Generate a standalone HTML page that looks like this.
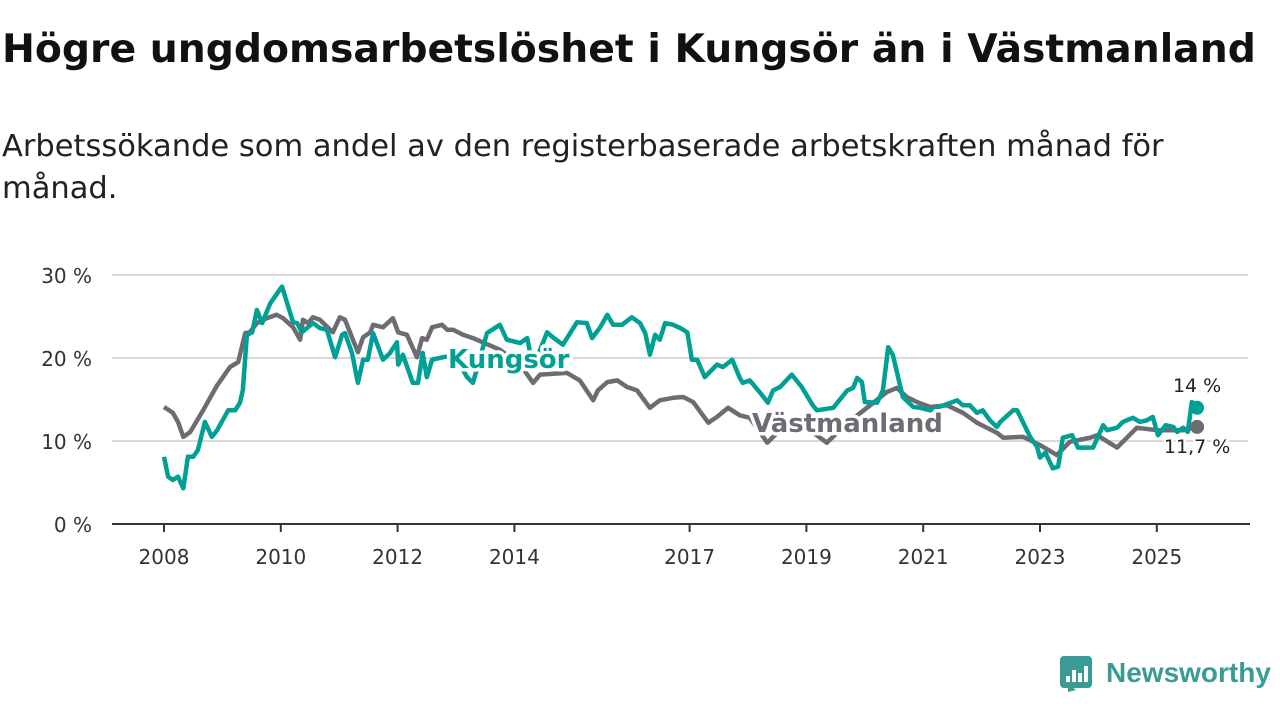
<!DOCTYPE html>
<html><head><meta charset="utf-8"><style>
body{margin:0;background:#fff;width:1280px;height:720px;overflow:hidden;font-family:"DejaVu Sans","Liberation Sans",sans-serif;}
#title{position:absolute;left:2px;top:26px;font-size:36px;font-weight:bold;color:#111;margin:0;white-space:nowrap;line-height:48px}
#sub{position:absolute;left:2px;top:126px;font-size:30.5px;color:#222;line-height:42px;width:1190px}
svg{position:absolute;left:0;top:0}
svg text{font-family:"DejaVu Sans","Liberation Sans",sans-serif}
svg text.logo{font-family:"Liberation Sans",sans-serif}
</style></head><body>
<h1 id="title">Högre ungdomsarbetslöshet i Kungsör än i Västmanland</h1>
<div id="sub">Arbetssökande som andel av den registerbaserade arbetskraften månad för månad.</div>
<svg id="chart" width="1280" height="720"></svg>
<script>
const yTicks=[0,10,20,30];
const yTickLabels=["0 %","10 %","20 %","30 %"];
const xTicks=[2008,2010,2012,2014,2017,2019,2021,2023,2025];
const vDates=[2008.0,2008.15,2008.24,2008.33,2008.45,2008.67,2008.91,2009.13,2009.27,2009.39,2009.47,2009.59,2009.76,2009.93,2010.04,2010.21,2010.33,2010.38,2010.47,2010.55,2010.67,2010.89,2011.01,2011.10,2011.32,2011.41,2011.53,2011.58,2011.75,2011.92,2012.01,2012.16,2012.33,2012.42,2012.50,2012.59,2012.76,2012.85,2012.95,2013.12,2013.29,2013.75,2014.10,2014.32,2014.44,2014.90,2015.12,2015.35,2015.43,2015.59,2015.76,2015.93,2016.10,2016.32,2016.49,2016.72,2016.89,2017.06,2017.32,2017.47,2017.66,2017.86,2018.03,2018.33,2018.43,2018.72,2019.06,2019.35,2019.66,2020.09,2020.38,2020.55,2020.72,2020.89,2021.12,2021.41,2021.68,2021.92,2022.26,2022.37,2022.71,2023.0,2023.29,2023.51,2023.86,2023.98,2024.32,2024.66,2025.0,2025.45,2025.69];
const vValues=[14.1,13.4,12.3,10.5,11.1,13.7,16.7,18.9,19.5,23.0,23.1,24.2,24.8,25.2,24.8,23.7,22.2,24.6,24.2,24.9,24.6,23.1,24.9,24.6,20.7,22.5,23.1,24.0,23.7,24.8,23.1,22.8,20.1,22.4,22.2,23.7,24.0,23.4,23.4,22.8,22.4,21.0,19.2,17.0,18.0,18.2,17.3,14.9,16.1,17.1,17.3,16.5,16.1,14.0,14.9,15.2,15.3,14.7,12.2,12.9,14.0,13.1,12.8,9.8,10.5,12.5,11.3,9.8,11.9,14.3,15.9,16.4,15.3,14.7,14.1,14.3,13.4,12.2,11.0,10.4,10.5,9.5,8.3,9.9,10.4,10.7,9.2,11.6,11.3,11.3,11.7];
const kDates=[2008.0,2008.07,2008.15,2008.24,2008.33,2008.41,2008.50,2008.58,2008.70,2008.82,2008.91,2009.10,2009.22,2009.30,2009.35,2009.42,2009.51,2009.59,2009.68,2009.82,2010.02,2010.21,2010.28,2010.36,2010.55,2010.67,2010.79,2010.93,2011.05,2011.10,2011.22,2011.32,2011.41,2011.49,2011.58,2011.75,2011.87,2011.99,2012.01,2012.09,2012.26,2012.35,2012.43,2012.50,2012.59,2012.78,2012.98,2013.19,2013.29,2013.53,2013.75,2013.87,2014.10,2014.22,2014.32,2014.56,2014.66,2014.83,2015.07,2015.24,2015.33,2015.47,2015.59,2015.69,2015.84,2016.01,2016.15,2016.24,2016.32,2016.41,2016.49,2016.58,2016.72,2016.84,2016.96,2017.04,2017.13,2017.26,2017.47,2017.57,2017.73,2017.86,2017.91,2018.03,2018.21,2018.34,2018.43,2018.55,2018.75,2018.92,2019.11,2019.18,2019.46,2019.70,2019.80,2019.87,2019.95,2020.00,2020.21,2020.31,2020.40,2020.48,2020.65,2020.83,2020.95,2021.12,2021.58,2021.68,2021.80,2021.92,2022.02,2022.14,2022.26,2022.32,2022.54,2022.61,2022.83,2022.95,2023.0,2023.09,2023.22,2023.31,2023.39,2023.55,2023.65,2023.91,2024.08,2024.15,2024.32,2024.42,2024.59,2024.71,2024.83,2024.93,2025.02,2025.15,2025.28,2025.35,2025.45,2025.53,2025.60,2025.69];
const kValues=[8.1,5.7,5.3,5.7,4.3,8.1,8.1,8.9,12.3,10.5,11.3,13.7,13.7,14.6,16.1,22.8,23.1,25.8,24.2,26.6,28.6,24.3,24.2,23.1,24.2,23.6,23.4,20.1,22.8,23.0,20.6,17.0,19.8,19.8,23.0,19.8,20.6,21.9,19.2,20.4,17.0,17.0,20.6,17.7,19.8,20.1,20.3,17.7,17.0,23.0,24.0,22.2,21.8,22.4,18.9,23.1,22.5,21.6,24.3,24.2,22.4,23.7,25.2,24.0,24.0,24.9,24.2,23.0,20.4,22.8,22.2,24.2,24.0,23.6,23.1,19.8,19.8,17.7,19.2,18.9,19.8,17.6,17.0,17.3,15.8,14.6,16.1,16.5,18.0,16.5,14.3,13.7,14.0,16.1,16.4,17.6,17.1,14.7,14.6,16.1,21.3,20.4,15.3,14.1,14.0,13.7,14.9,14.3,14.3,13.4,13.7,12.5,11.7,12.3,13.7,13.7,10.5,9.3,8.0,8.6,6.7,6.9,10.4,10.7,9.2,9.2,11.9,11.3,11.6,12.3,12.8,12.3,12.5,12.9,10.7,11.9,11.7,11.1,11.6,11.1,14.7,14.0];
const NS='http://www.w3.org/2000/svg';
const svg=document.getElementById('chart');
const X=d=>164+(d-2008)*58.4;
const Y=v=>524-v*8.3;
const ti=document.getElementById('title');
const w=ti.getBoundingClientRect().width;
ti.style.fontSize=(36*1254/w).toFixed(2)+'px';
function mk(tag,attrs,parent){const e=document.createElementNS(NS,tag);for(const k in attrs)e.setAttribute(k,attrs[k]);(parent||svg).appendChild(e);return e;}
yTicks.forEach((t,i)=>{
  if(t>0){const g=mk('line',{x1:112,x2:1248,y1:Y(t),y2:Y(t),stroke:'#d9d9d9','stroke-width':2});
  
  }
  const l=mk('text',{x:92,y:Y(t)+8,'text-anchor':'end','font-size':20,fill:'#333'});
  l.textContent=yTickLabels[i];
  
  
});
const ax=mk('line',{x1:112,x2:1250,y1:524,y2:524,stroke:'#333','stroke-width':2});


xTicks.forEach(t=>{
  const tk=mk('line',{x1:X(t),x2:X(t),y1:524,y2:532,stroke:'#333','stroke-width':2});
  
  
  const l=mk('text',{x:X(t),y:564,'text-anchor':'middle','font-size':20,fill:'#333'});
  l.textContent=t;
  
  
});
function pts(d,v){return d.map((x,i)=>X(x).toFixed(1)+','+Y(v[i]).toFixed(1)).join(' ');}
const vl=mk('polyline',{points:pts(vDates,vValues),fill:'none',stroke:'#6e6c72','stroke-width':4.5,'stroke-linejoin':'round'});


const kl=mk('polyline',{points:pts(kDates,kValues),fill:'none',stroke:'#00a095','stroke-width':4.5,'stroke-linejoin':'round'});


const vd=mk('circle',{cx:X(vDates[vDates.length-1]),cy:Y(vValues[vValues.length-1]),r:7,fill:'#6e6c72'});


const kd=mk('circle',{cx:X(kDates[kDates.length-1]),cy:Y(kValues[kValues.length-1]),r:7,fill:'#00a095'});


function lab(txt,x,y,fill,name,size,bold,anchor){
  const t=mk('text',{x:x,y:y,'font-size':size,'font-weight':bold?'bold':'normal',fill:fill,stroke:'#fff','stroke-width':bold?7:5,'paint-order':'stroke','stroke-linejoin':'round','text-anchor':anchor||'start'});
  t.textContent=txt;
  
  
}
lab('Kungsör',448,368,'#00a095','kungsor-label',26,true);
lab('Västmanland',752,432,'#6e6c72','vastmanland-label',26,true);
lab('14 %',X(kDates[kDates.length-1]),392,'#222','kungsor-end-value',19,false,'middle');
lab('11,7 %',X(vDates[vDates.length-1]),453,'#222','vastmanland-end-value',19,false,'middle');
const lg=mk('g',{});


mk('rect',{x:1060,y:656,width:32,height:32,rx:4,fill:'#3a9a94'},lg);
mk('path',{d:'M1068 692 L1068 684 L1076 690 Z',fill:'#3a9a94'},lg);
[[1066,676,4,6],[1072,670,4,12],[1078,673,4,9],[1084,666,4,16]].forEach(r=>mk('rect',{x:r[0],y:r[1],width:r[2],height:r[3],fill:'#fff'},lg));
const lt=mk('text',{x:1106,y:682,'font-size':28,'font-weight':'bold',fill:'#3a9a94','class':'logo'},lg);
lt.textContent='Newsworthy';
</script>
</body></html>
